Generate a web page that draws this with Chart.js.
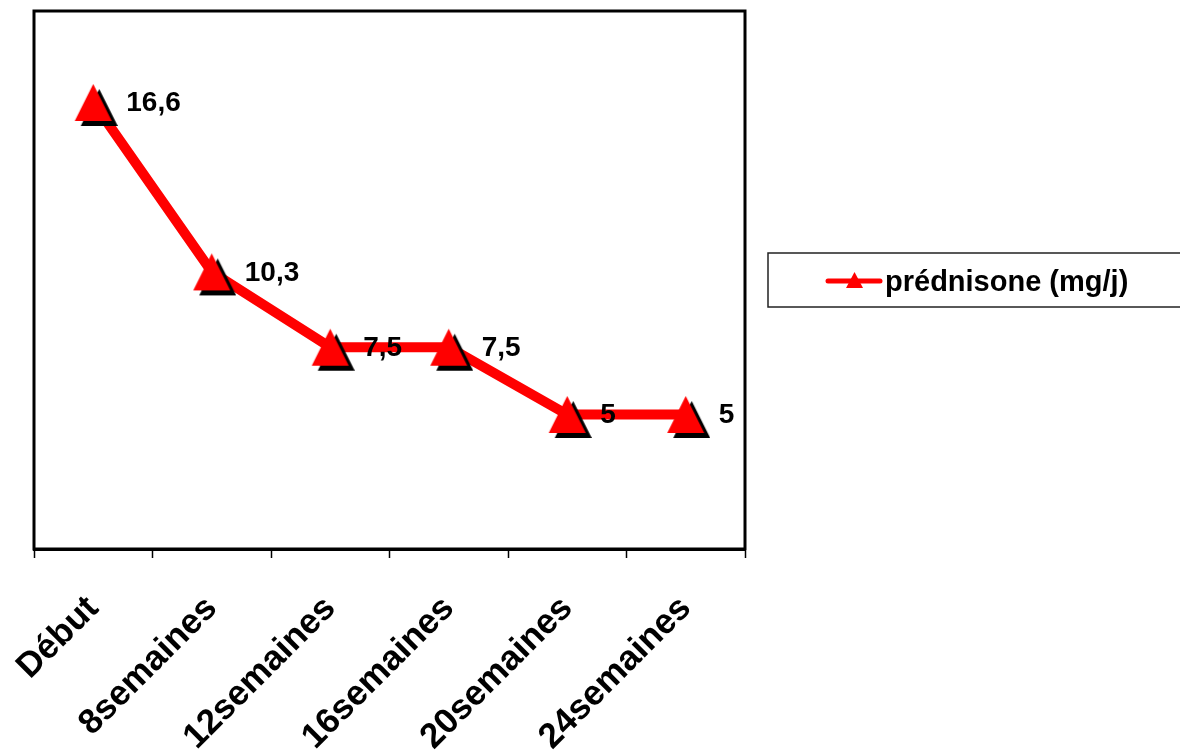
<!DOCTYPE html>
<html>
<head>
<meta charset="utf-8">
<script src="https://cdn.jsdelivr.net/npm/chart.js@4.4.1/dist/chart.umd.min.js"></script>
<style>
  html, body { margin: 0; padding: 0; background: #ffffff; }
  #wrap { width: 1180px; height: 756px; position: relative; }
</style>
</head>
<body>
<div id="wrap"><canvas id="chart" width="1180" height="756"></canvas></div>
<script>
// Prednisone dose over follow-up
const categories = ['Début', '8semaines', '12semaines', '16semaines', '20semaines', '24semaines'];
const seriesLabel = 'prédnisone (mg/j)';
const doses = [16.6, 10.3, 7.5, 7.5, 5, 5];
const yRange = [0, 20];

const RED = '#ff0000';
const FONT = '"Liberation Sans", Arial, sans-serif';

// Triangle marker with a hard black drop shadow, centred on the data point
function makeMarker(w, h, dx, dy) {
  const pad = Math.max(dx, dy);
  const c = document.createElement('canvas');
  c.width = w + pad * 2;
  c.height = h + pad * 2;
  const g = c.getContext('2d');
  const tri = (ox, oy, color) => {
    g.beginPath();
    g.moveTo(pad + ox + w / 2, pad + oy);
    g.lineTo(pad + ox + w, pad + oy + h);
    g.lineTo(pad + ox, pad + oy + h);
    g.closePath();
    g.fillStyle = color;
    g.fill();
  };
  tri(dx, dy, '#000000');
  tri(0, 0, RED);
  return c;
}
const marker = makeMarker(37, 37, 6, 5);

// Plot frame
const framePlugin = {
  id: 'frame',
  beforeDatasetsDraw(chart) {
    const a = chart.chartArea, ctx = chart.ctx;
    ctx.save();
    ctx.strokeStyle = '#000000';
    ctx.lineWidth = 3;
    ctx.strokeRect(a.left, a.top, a.right - a.left, a.bottom - a.top);
    ctx.restore();
  }
};

// Value labels to the right of each marker
const valueLabels = {
  id: 'valueLabels',
  afterDatasetsDraw(chart) {
    const ctx = chart.ctx;
    const meta = chart.getDatasetMeta(0);
    const data = chart.data.datasets[0].data;
    ctx.save();
    ctx.font = 'bold 28px ' + FONT;
    ctx.fillStyle = '#000000';
    ctx.textAlign = 'left';
    ctx.textBaseline = 'middle';
    meta.data.forEach((pt, i) => {
      ctx.fillText(String(data[i]).replace('.', ','), pt.x + 33, pt.y + 1);
    });
    ctx.restore();
  }
};

// Boxed legend on the right: line sample with marker, then series name
const boxLegend = {
  id: 'boxLegend',
  afterDraw(chart) {
    const ctx = chart.ctx;
    const ds = chart.data.datasets[0];
    const bx = 768, by = 253, bw = 420, bh = 54;
    ctx.save();
    ctx.strokeStyle = '#222222';
    ctx.lineWidth = 1.5;
    ctx.strokeRect(bx, by, bw, bh);
    const cy = 281;
    ctx.strokeStyle = ds.borderColor;
    ctx.lineWidth = 5;
    ctx.lineCap = 'round';
    ctx.beginPath();
    ctx.moveTo(828, cy);
    ctx.lineTo(880, cy);
    ctx.stroke();
    ctx.fillStyle = ds.borderColor;
    ctx.beginPath();
    ctx.moveTo(854.5, 272);
    ctx.lineTo(863, 288);
    ctx.lineTo(846, 288);
    ctx.closePath();
    ctx.fill();
    ctx.font = 'bold 29px ' + FONT;
    ctx.fillStyle = '#000000';
    ctx.textAlign = 'left';
    ctx.textBaseline = 'middle';
    ctx.fillText(ds.label, 885, 283);
    ctx.restore();
  }
};

new Chart(document.getElementById('chart'), {
  type: 'line',
  data: {
    labels: categories,
    datasets: [{
      label: seriesLabel,
      data: doses,
      borderColor: RED,
      backgroundColor: RED,
      borderWidth: 10,
      pointStyle: marker,
      pointRadius: 20,
      tension: 0
    }]
  },
  options: {
    responsive: false,
    animation: false,
    events: [],
    layout: { autoPadding: false, padding: { left: 34, top: 11, right: 435, bottom: 0 } },
    plugins: {
      legend: { display: false },
      tooltip: { enabled: false }
    },
    scales: {
      x: {
        offset: true,
        grid: {
          offset: true,
          drawOnChartArea: false,
          drawTicks: true,
          tickLength: 9,
          tickWidth: 1.5,
          tickColor: '#000000'
        },
        border: { display: true, color: '#000000', width: 3 },
        ticks: {
          color: '#000000',
          font: { family: FONT, size: 35, weight: 'bold' },
          minRotation: 45,
          maxRotation: 45,
          padding: 30,
          autoSkip: false
        },
        afterFit(scale) {
          scale.height = 207;
          scale.paddingLeft = 0;
          scale.paddingRight = 0;
        }
      },
      y: {
        display: false,
        min: yRange[0],
        max: yRange[1]
      }
    }
  },
  plugins: [framePlugin, valueLabels, boxLegend]
});
</script>
</body>
</html>
